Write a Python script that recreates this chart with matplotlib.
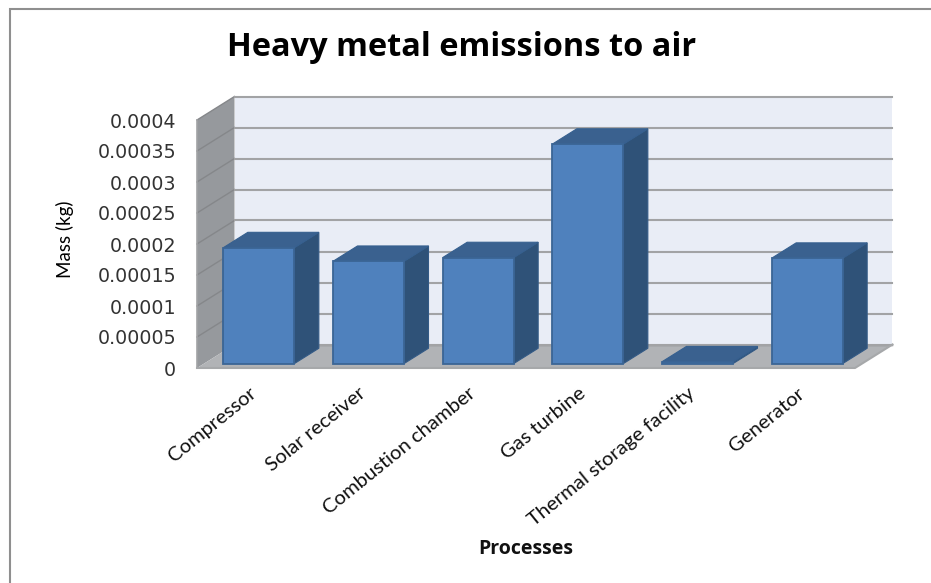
#!/usr/bin/env python3

import matplotlib

matplotlib.use("Agg")
import matplotlib.pyplot as plt
from matplotlib.lines import Line2D
from matplotlib.patches import Polygon
from matplotlib.transforms import ScaledTranslation

categories = [
    "Compressor",
    "Solar receiver",
    "Combustion chamber",
    "Gas turbine",
    "Thermal storage facility",
    "Generator",
]
mass_kg = [0.000187, 0.000165, 0.000171, 0.000354, 0.000003, 0.000170]
y_ticks = [0, 0.00005, 0.0001, 0.00015, 0.0002, 0.00025, 0.0003, 0.00035, 0.0004]
y_tick_labels = ["0", "0.00005", "0.0001", "0.00015", "0.0002", "0.00025", "0.0003", "0.00035", "0.0004"]

W, H = 931, 583
# front plane of the 3D box, in pixels
LEFT, RIGHT, BASE, TOP = 197, 855, 368, 120
DEPTH_X_PX, DEPTH_Y_PX = 37.5, 23.5
Y_MAX = 0.0004
N = len(categories)

DEPTH_X = DEPTH_X_PX * N / (RIGHT - LEFT)
DEPTH_Y = DEPTH_Y_PX * Y_MAX / (BASE - TOP)

BAR_WIDTH = 71 / ((RIGHT - LEFT) / N)
BAR_D0, BAR_D1 = 0.19, 0.84


def project(x, y, depth):
    return x + depth * DEPTH_X, y + depth * DEPTH_Y


def face(ax, corners, color, edge=None, lw=0.0, zorder=1):
    pts = [project(*c) for c in corners]
    ax.add_patch(Polygon(pts, closed=True, facecolor=color, edgecolor=edge or color,
                         linewidth=lw, clip_on=False, zorder=zorder, joinstyle="miter"))


def draw_box(ax):
    face(ax, [(0, 0, 1), (N, 0, 1), (N, Y_MAX, 1), (0, Y_MAX, 1)], "#e9edf6")
    face(ax, [(0, 0, 0), (0, Y_MAX, 0), (0, Y_MAX, 1), (0, 0, 1)], "#96999d")
    face(ax, [(0, 0, 0), (N, 0, 0), (N, 0, 1), (0, 0, 1)], "#b1b3b6")
    grid = "#a2a3a5"
    for tick in y_ticks:
        xs, ys = zip(project(0, tick, 0), project(0, tick, 1), project(N, tick, 1))
        if tick == 0:
            xs, ys = xs[1:], ys[1:]
        # the part on the side wall is darker than the back wall part
        ax.plot(xs[:2], ys[:2], color="#85878a", lw=1.0, clip_on=False, zorder=2)
        ax.plot(xs[-2:], ys[-2:], color=grid, lw=1.5, clip_on=False, zorder=2)
    xs, ys = zip(project(0, 0, 0), project(0, Y_MAX, 0))
    ax.plot(xs, ys, color="#a2a3a5", lw=1.2, clip_on=False, zorder=2)
    xs, ys = zip(project(0, 0, 0), project(N, 0, 0), project(N, 0, 1))
    ax.plot(xs, ys, color="#a6a8aa", lw=1.5, clip_on=False, zorder=2)


def draw_bar(ax, i, value):
    x0 = i + 0.5 - BAR_WIDTH / 2
    x1 = x0 + BAR_WIDTH
    z = 3 + i * 0.1
    edge = "#3b6595"
    face(ax, [(x1, 0, BAR_D0), (x1, 0, BAR_D1), (x1, value, BAR_D1), (x1, value, BAR_D0)],
         "#2f5278", "#335a86", 0.8, z)
    face(ax, [(x0, value, BAR_D0), (x1, value, BAR_D0), (x1, value, BAR_D1), (x0, value, BAR_D1)],
         "#3a618f", "#36608f", 0.8, z)
    face(ax, [(x0, 0, BAR_D0), (x1, 0, BAR_D0), (x1, value, BAR_D0), (x0, value, BAR_D0)],
         "#4f81bd", edge, 1.3, z + 0.01)


def main():
    fig = plt.figure(figsize=(W / 100, H / 100), dpi=100, facecolor="white")
    ax = fig.add_axes([LEFT / W, 1 - BASE / H, (RIGHT - LEFT) / W, (BASE - TOP) / H])
    ax.set_xlim(0, N)
    ax.set_ylim(0, Y_MAX)
    ax.patch.set_visible(False)
    for spine in ax.spines.values():
        spine.set_visible(False)

    # chart frame: only the top and left sides are visible
    fig.add_artist(Line2D([10 / W, 10 / W, 1], [0, 1 - 9 / H, 1 - 9 / H], transform=fig.transFigure,
                          color="#8f8f8f", linewidth=1.5, solid_joinstyle="miter"))

    draw_box(ax)
    for i, value in enumerate(mass_kg):
        draw_bar(ax, i, value)

    ax.set_yticks(y_ticks)
    ax.set_yticklabels(y_tick_labels, fontsize=13.7, color="#333333", family="DejaVu Sans")
    ax.tick_params(axis="y", length=0, pad=15)

    ax.set_xticks([i + 0.5 for i in range(N)])
    ax.set_xticklabels(categories, rotation=39, ha="right", va="top", rotation_mode="anchor",
                       fontsize=14.6, family="Lato", color="#111111")
    ax.tick_params(axis="x", length=0, pad=12)
    nudge = ScaledTranslation(-3 / 100, 0, fig.dpi_scale_trans)
    for label in ax.get_xticklabels():
        label.set_transform(label.get_transform() + nudge)

    fig.text(461.5 / W, 1 - 48 / H, "Heavy metal emissions to air", ha="center", va="center",
             fontsize=23.4, fontweight="bold", family="Open Sans", color="black")
    fig.text(65 / W, 1 - 239 / H, "Mass (kg)", ha="center", va="center", rotation=90,
             fontsize=13.5, family="Lato", color="black")
    fig.text(526 / W, 1 - 549 / H, "Processes", ha="center", va="center",
             fontsize=14, fontweight="bold", family="Open Sans", color="#111111")

    fig.savefig("out.png", dpi=100)
    plt.close(fig)


if __name__ == "__main__":
    main()
